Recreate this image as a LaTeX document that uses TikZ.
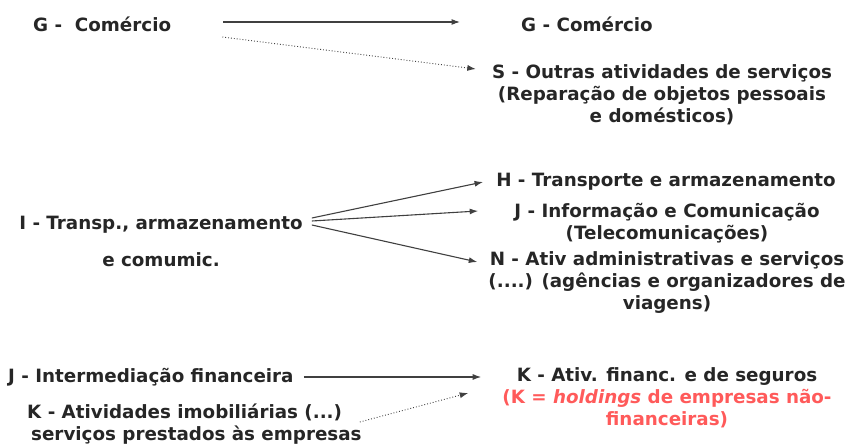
\documentclass[tikz,border=0pt]{standalone}
\usepackage{fontspec}
\setmainfont{DejaVu Sans}
\usetikzlibrary{arrows.meta}
\definecolor{txt}{HTML}{262626}
\definecolor{ln}{HTML}{404040}
\definecolor{redk}{HTML}{FF5A5A}
\begin{document}
\begin{tikzpicture}[x=1pt,y=-1pt,
    every node/.style={inner sep=0pt, text=txt, align=center,
        font=\fontsize{18.3}{22}\selectfont\bfseries},
    arr/.style={-{Latex[length=8.5pt,width=6pt]}, draw=ln, line width=1.1pt},
    dotarr/.style={arr, line width=0.9pt, dotted}]
    \useasboundingbox (0,0) rectangle (863,446);
                % old classes (left)
                \node [anchor=west] (gL) at (33,24) {G -\ \ Comércio};
                \node (iL) at (161,225) {I - Transp., armazenamento};
                \node (iC) at (161,260) {e comumic.};
                \node [anchor=west] (jL) at (8,377) {J - Intermediação financeira};
                \node [anchor=west, align=left] (kL) at (27,424) {K - Atividades imobiliárias (...)\\\hspace*{4pt}serviços prestados às empresas};
                % new classes (right)
                \node (gR) at (587,24) {G - Comércio};
                \node (sR) at (662,95) {S - Outras atividades de serviços\\(Reparação de objetos pessoais\\e domésticos)};
                \node (hR) at (666,182) {H - Transporte e armazenamento};
                \node (jR) at (667,223) {J - Informação e Comunicação\\(Telecomunicações)};
                \node (nR) at (667,283) {N - Ativ administrativas e serviços\\(....) (agências e organizadores de\\viagens)};
                \node (kR) at (667,398) {K - Ativ. financ. e de seguros\\\textcolor{redk}{(K = \textit{holdings} de empresas não-}\\\textcolor{redk}{financeiras)}};
                % arrows
                \draw [arr] ([shift={(52,-2)}]gL.east) -- ([shift={(-61,-2)}]gR.west);
                \draw [dotarr] ([shift={(51,13)}]gL.east) -- ([shift={(-16,-26)}]sR.west);
                \draw [arr] ([shift={(9,-7)}]iL.east) -- ([shift={(-13,0)}]hR.west);
                \draw [arr] ([shift={(9,-4)}]iL.east) -- ([shift={(-36,-12)}]jR.west);
                \draw [arr] ([shift={(9,0)}]iL.east) -- ([shift={(-11,-21)}]nR.west);
                \draw [arr] ([shift={(10,0)}]jL.east) -- ([shift={(-21,-21)}]kR.west);
                \draw [dotarr] ([shift={(-2,-2)}]kL.east) -- ([shift={(-34,-5)}]kR.west);
\end{tikzpicture}
\end{document}
